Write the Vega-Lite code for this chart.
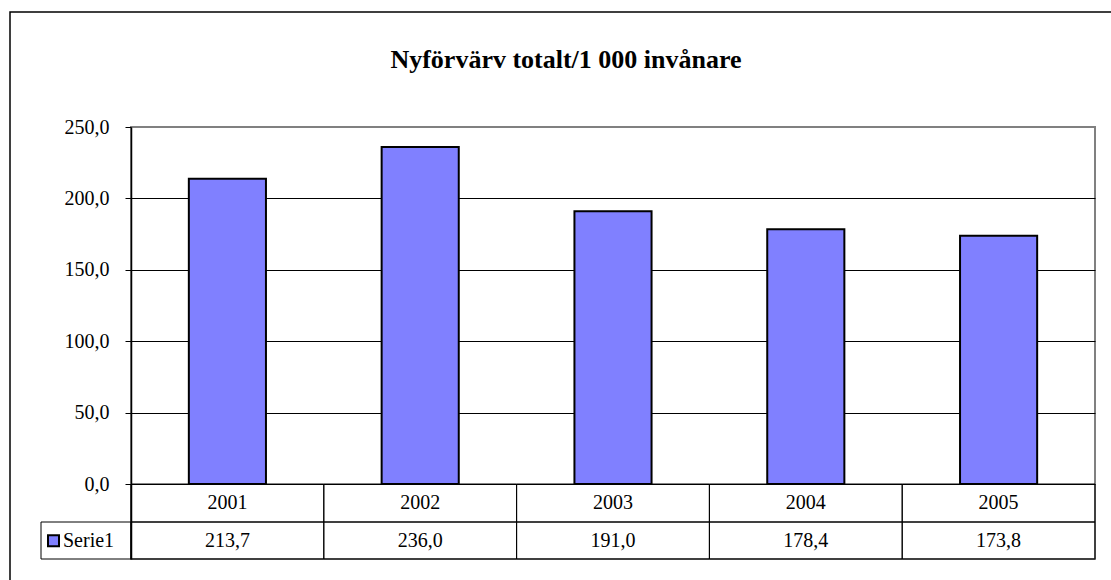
{
  "$schema": "https://vega.github.io/schema/vega-lite/v6.json",
  "width": 964,
  "height": 432,
  "autosize": {"type": "none"},
  "padding": {"left": 131, "top": 127, "right": 16, "bottom": 21},
  "background": "white",
  "config": {
    "view": {"stroke": "#808080", "strokeWidth": 2},
    "font": "Liberation Serif",
    "locale": {"number": {"decimal": ",", "thousands": " ", "grouping": [3], "currency": ["", " kr"]}}
  },
  "title": {
    "text": "Nyförvärv totalt/1 000 invånare",
    "font": "Liberation Serif",
    "fontSize": 26,
    "fontWeight": "bold",
    "color": "black",
    "anchor": "middle",
    "baseline": "alphabetic",
    "offset": 0,
    "dx": -47,
    "dy": 83
  },
  "data": {"values": [
    {"year": "2001", "value": 213.7},
    {"year": "2002", "value": 236.0},
    {"year": "2003", "value": 191.0},
    {"year": "2004", "value": 178.4},
    {"year": "2005", "value": 173.8}
  ]},
  "resolve": {"scale": {"x": "independent"}, "axis": {"x": "independent", "y": "independent"}},
  "layer": [
    {
      "data": {"values": [{"part": "chart"}]},
      "mark": {"type": "rect", "fill": "transparent", "stroke": "black", "strokeWidth": 1.5},
      "encoding": {
        "x": {"field": "part", "type": "nominal", "scale": {"domain": ["chart"], "range": [-121, 990], "paddingInner": 0, "paddingOuter": 0}, "axis": null},
        "y": {"datum": 330.5, "type": "quantitative", "scale": {"domain": [-52.5, 250], "nice": false, "zero": false}, "axis": null},
        "y2": {"datum": -71}
      }
    },
    {
      "mark": {"type": "bar", "fill": "#8080FF", "stroke": "black", "strokeWidth": 2},
      "encoding": {
        "x": {"field": "year", "type": "nominal", "scale": {"paddingInner": 0.6, "paddingOuter": 0.3}, "axis": null},
        "y": {
          "field": "value", "type": "quantitative",
          "scale": {"domain": [-52.5, 250], "nice": false, "zero": false},
          "axis": {
            "values": [0, 50, 100, 150, 200, 250],
            "format": ".1f",
            "title": null,
            "grid": true,
            "gridColor": {"condition": {"test": "datum.value === 250", "value": "#808080"}, "value": "black"},
            "gridWidth": 1,
            "domainColor": "black",
            "domainWidth": 1.5,
            "tickColor": "black",
            "tickSize": 6,
            "tickWidth": 1,
            "labelFont": "Liberation Serif",
            "labelFontSize": 20,
            "labelColor": "black",
            "labelPadding": 16
          }
        }
      }
    },
    {
      "mark": {"type": "rect", "fill": "transparent", "stroke": "black", "strokeWidth": 1},
      "encoding": {
        "x": {"field": "year", "type": "nominal", "scale": {"paddingInner": 0, "paddingOuter": 0}, "axis": null},
        "y": {"datum": 0, "type": "quantitative", "scale": {"domain": [-52.5, 250], "nice": false, "zero": false}, "axis": null},
        "y2": {"datum": -26.6}
      }
    },
    {
      "mark": {"type": "rect", "fill": "transparent", "stroke": "black", "strokeWidth": 1},
      "encoding": {
        "x": {"field": "year", "type": "nominal", "scale": {"paddingInner": 0, "paddingOuter": 0}, "axis": null},
        "y": {"datum": -26.6, "type": "quantitative", "scale": {"domain": [-52.5, 250], "nice": false, "zero": false}, "axis": null},
        "y2": {"datum": -52.5}
      }
    },
    {
      "mark": {"type": "text", "font": "Liberation Serif", "fontSize": 20, "color": "black", "baseline": "middle", "align": "center"},
      "encoding": {
        "x": {"field": "year", "type": "nominal", "scale": {"paddingInner": 0, "paddingOuter": 0}, "axis": null},
        "y": {"datum": -13.4, "type": "quantitative", "scale": {"domain": [-52.5, 250], "nice": false, "zero": false}, "axis": null},
        "text": {"field": "year", "type": "nominal"}
      }
    },
    {
      "mark": {"type": "text", "font": "Liberation Serif", "fontSize": 20, "color": "black", "baseline": "middle", "align": "center"},
      "encoding": {
        "x": {"field": "year", "type": "nominal", "scale": {"paddingInner": 0, "paddingOuter": 0}, "axis": null},
        "y": {"datum": -39.8, "type": "quantitative", "scale": {"domain": [-52.5, 250], "nice": false, "zero": false}, "axis": null},
        "text": {"field": "value", "type": "quantitative", "format": ".1f"}
      }
    },
    {
      "data": {"values": [{"series": "Serie1"}]},
      "layer": [
        {
          "mark": {"type": "rect", "fill": "transparent", "stroke": "black", "strokeWidth": 1},
          "encoding": {
            "x": {"field": "series", "type": "nominal", "scale": {"range": [-90, 0], "paddingInner": 0, "paddingOuter": 0}, "axis": null},
            "y": {"datum": -26.6, "type": "quantitative", "scale": {"domain": [-52.5, 250], "nice": false, "zero": false}, "axis": null},
            "y2": {"datum": -52.5}
          }
        },
        {
          "mark": {"type": "point", "shape": "square", "filled": true, "fill": "#8080FF", "stroke": "black", "strokeWidth": 2, "size": 121, "opacity": 1, "xOffset": 12.5},
          "encoding": {
            "x": {"field": "series", "type": "nominal", "bandPosition": 0, "scale": {"range": [-90, 0], "paddingInner": 0, "paddingOuter": 0}, "axis": null},
            "y": {"datum": -39.8, "type": "quantitative", "scale": {"domain": [-52.5, 250], "nice": false, "zero": false}, "axis": null}
          }
        },
        {
          "mark": {"type": "text", "font": "Liberation Serif", "fontSize": 20, "color": "black", "baseline": "middle", "align": "left", "dx": 22},
          "encoding": {
            "x": {"field": "series", "type": "nominal", "bandPosition": 0, "scale": {"range": [-90, 0], "paddingInner": 0, "paddingOuter": 0}, "axis": null},
            "y": {"datum": -39.8, "type": "quantitative", "scale": {"domain": [-52.5, 250], "nice": false, "zero": false}, "axis": null},
            "text": {"field": "series", "type": "nominal"}
          }
        }
      ]
    }
  ]
}
